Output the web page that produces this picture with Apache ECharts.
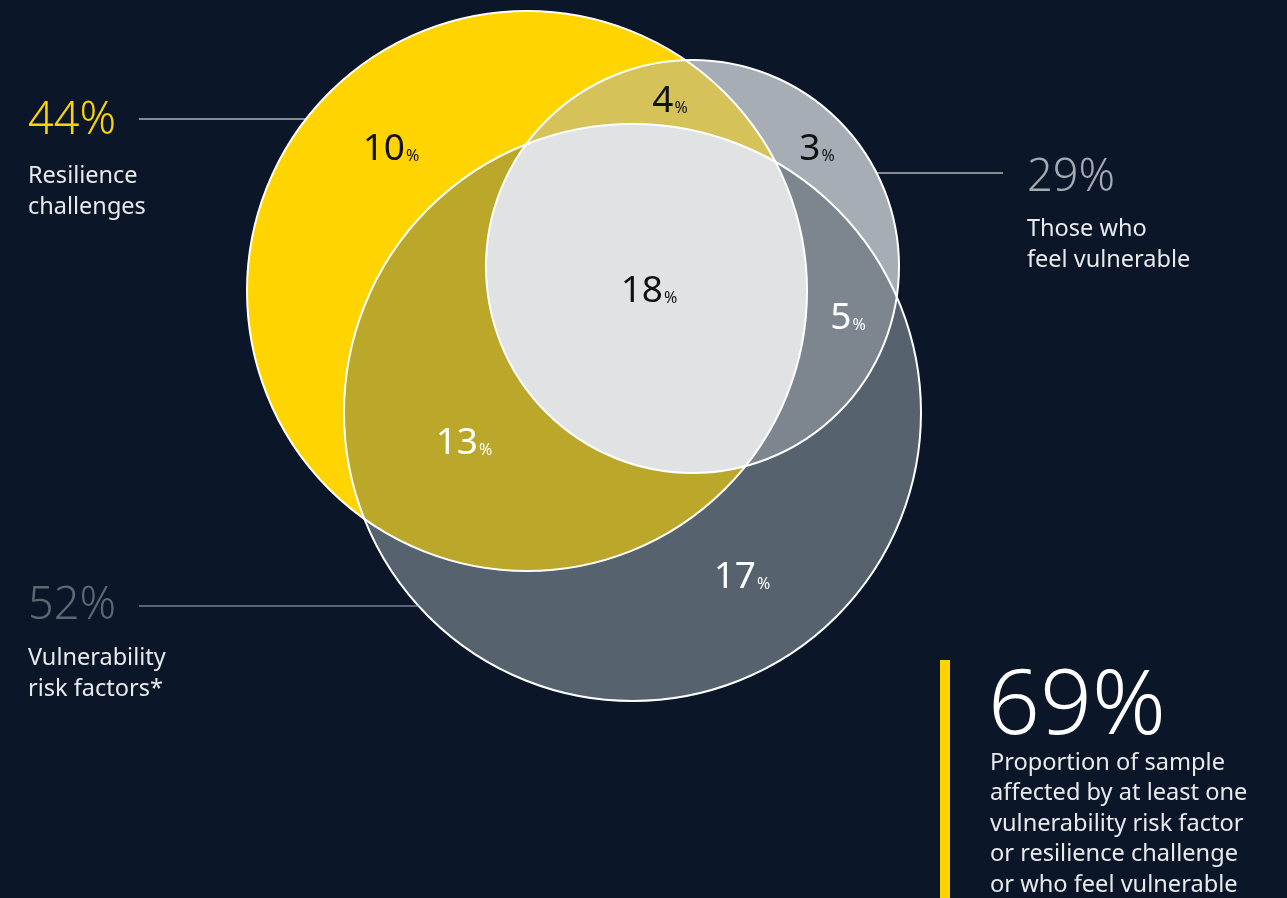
<!DOCTYPE html>
<html><head><meta charset="utf-8">
<script src="https://cdn.jsdelivr.net/npm/echarts@6/dist/echarts.min.js"></script>
<style>html,body{margin:0;padding:0;background:#0b1628;}#c{width:1287px;height:898px;}</style>
</head><body><div id="c"></div>
<script>
// ---------------- DATA ----------------
const setKeys = ['A', 'B', 'C'];
const setNames = ['Resilience\nchallenges', 'Those who\nfeel vulnerable', 'Vulnerability\nrisk factors*'];
const setTotals = [44, 29, 52];
const regionSets = [['A'], ['A','B'], ['B'], ['A','C'], ['A','B','C'], ['B','C'], ['C']];
const regionValues = [10, 4, 3, 13, 18, 5, 17];
const overallTotal = 69;
const overallText = 'Proportion of sample\naffected by at least one\nvulnerability risk factor\nor resilience challenge\nor who feel vulnerable';

// ---------------- LAYOUT / STYLE ----------------
const circles = {
  A: { cx: 527, cy: 291, r: 280 },
  B: { cx: 692.5, cy: 266.5, r: 206.5 },
  C: { cx: 632.5, cy: 412.5, r: 288.5 }
};
const regionColors = ['#ffd400', '#d5c35a', '#a6adb4', '#bba72a', '#e1e2e4', '#7d868f', '#56626e'];
const regionTextColors = ['#111', '#111', '#111', '#fff', '#111', '#fff', '#fff'];
const regionLabelPos = [[391,149],[670,101],[817,149],[464,443],[649,291],[848,318],[742,577]];
const paintOrder = [0, 6, 3, 2, 1, 5, 4]; // region indices; each drawn as full intersection of its sets
const callouts = [
  { lineFrom: 139, lineY: 119, side: 'left',  textX: 28,   pctY: 121, nameY: 161, pctColor: '#ffd400', lineColor: '#ffffff' },
  { lineFrom: 1003, lineY: 173, side: 'right', textX: 1027, pctY: 178, nameY: 214, pctColor: '#a3aab1', lineColor: '#ffffff' },
  { lineFrom: 139, lineY: 606, side: 'left',  textX: 28,   pctY: 606, nameY: 643, pctColor: '#5d6873', lineColor: '#aab0b6' }
];
const FONT = '"Noto Sans", "Open Sans", sans-serif';

function intersectionPolygon(keys, api) {
  const cs = keys.map(k => {
    const c = circles[k];
    const p = api.coord([c.cx, c.cy]);
    const r = api.size([c.r, 0])[0];
    return { x: p[0], y: p[1], r: r };
  });
  const pts = [];
  const N = 1440;
  cs.forEach((c, i) => {
    for (let k = 0; k < N; k++) {
      const a = k / N * Math.PI * 2;
      const x = c.x + c.r * Math.cos(a), y = c.y + c.r * Math.sin(a);
      let inside = true;
      cs.forEach((o, j) => {
        if (j !== i) {
          const d = Math.hypot(x - o.x, y - o.y);
          if (d > o.r + 0.01) inside = false;
        }
      });
      if (inside) pts.push([x, y]);
    }
  });
  let mx = 0, my = 0;
  pts.forEach(p => { mx += p[0]; my += p[1]; });
  mx /= pts.length; my /= pts.length;
  pts.sort((p, q) => Math.atan2(p[1]-my, p[0]-mx) - Math.atan2(q[1]-my, q[0]-mx));
  return pts;
}

const chart = echarts.init(document.getElementById('c'), null, { renderer: 'canvas' });
chart.setOption({
  backgroundColor: '#0b1628',
  animation: false,
  grid: { left: 0, right: 0, top: 0, bottom: 0 },
  xAxis: { type: 'value', min: 0, max: 1287, show: false },
  yAxis: { type: 'value', min: 0, max: 898, inverse: true, show: false },
  series: [
    {
      type: 'custom', silent: true,
      data: paintOrder.map(i => [i]),
      renderItem: function (params, api) {
        const ri = api.value(0);
        const keys = regionSets[ri];
        if (keys.length === 1) {
          const c = circles[keys[0]];
          const p = api.coord([c.cx, c.cy]);
          return { type: 'circle', shape: { cx: p[0], cy: p[1], r: api.size([c.r, 0])[0] }, style: { fill: regionColors[ri] } };
        }
        return { type: 'polygon', shape: { points: intersectionPolygon(keys, api) }, style: { fill: regionColors[ri] } };
      },
      z: 1
    },
    {
      type: 'custom', silent: true,
      data: setKeys.map((k, i) => [i]),
      renderItem: function (params, api) {
        const c = circles[setKeys[api.value(0)]];
        const p = api.coord([c.cx, c.cy]);
        return { type: 'circle', shape: { cx: p[0], cy: p[1], r: api.size([c.r, 0])[0] }, style: { fill: null, stroke: '#ffffff', lineWidth: 2 } };
      },
      z: 2
    },
    {
      type: 'custom', silent: true,
      data: regionValues.map((v, i) => [i, v]),
      renderItem: function (params, api) {
        const i = api.value(0), v = api.value(1);
        const p = api.coord(regionLabelPos[i]);
        const col = regionTextColors[i];
        return {
          type: 'text', x: p[0], y: p[1],
          style: {
            text: '{n|' + v + '}{p|%}',
            align: 'center', verticalAlign: 'middle',
            rich: {
              n: { fontSize: 37, fontFamily: FONT, fontWeight: 400, fill: col, color: col, verticalAlign: 'bottom' },
              p: { fontSize: 16, fontFamily: FONT, fill: col, color: col, verticalAlign: 'bottom', padding: [0, 0, 3, 1] }
            }
          }
        };
      },
      z: 3
    },
    {
      type: 'custom', silent: true,
      data: setTotals.map((v, i) => [i, v]),
      renderItem: function (params, api) {
        const i = api.value(0);
        const L = callouts[i];
        const c = circles[setKeys[i]];
        const dy = L.lineY - c.cy;
        const dx = Math.sqrt(c.r * c.r - dy * dy);
        const edgeX = L.side === 'left' ? c.cx - dx : c.cx + dx;
        const p1 = api.coord([L.lineFrom, L.lineY]);
        const p2 = api.coord([edgeX, L.lineY]);
        const t1 = api.coord([L.textX, L.pctY]);
        const t2 = api.coord([L.textX, L.nameY]);
        return {
          type: 'group', children: [
            { type: 'line', shape: { x1: p1[0], y1: p1[1], x2: p2[0], y2: p2[1] }, style: { stroke: L.lineColor, lineWidth: 1.2 } },
            { type: 'text', x: t1[0], y: t1[1], style: { text: api.value(1) + '%', fill: L.pctColor, fontSize: 45, fontFamily: FONT, fontWeight: 300, align: 'left', verticalAlign: 'middle' } },
            { type: 'text', x: t2[0], y: t2[1], style: { text: setNames[i], fill: '#e8eaec', fontSize: 23.5, fontFamily: FONT, lineHeight: 31, align: 'left', verticalAlign: 'top' } }
          ]
        };
      },
      z: 4
    }
  ],
  graphic: [
    { type: 'rect', shape: { x: 940, y: 660, width: 10, height: 240 }, style: { fill: '#ffd400' } },
    { type: 'text', x: 988, y: 708, style: { text: overallTotal + '%', fill: '#ffffff', fontSize: 91, fontFamily: FONT, fontWeight: 300, align: 'left', verticalAlign: 'middle' } },
    { type: 'text', x: 990, y: 748, style: { text: overallText, fill: '#e8eaec', fontSize: 23.6, fontFamily: FONT, lineHeight: 30.5, align: 'left', verticalAlign: 'top' } }
  ]
});
</script></body></html>
